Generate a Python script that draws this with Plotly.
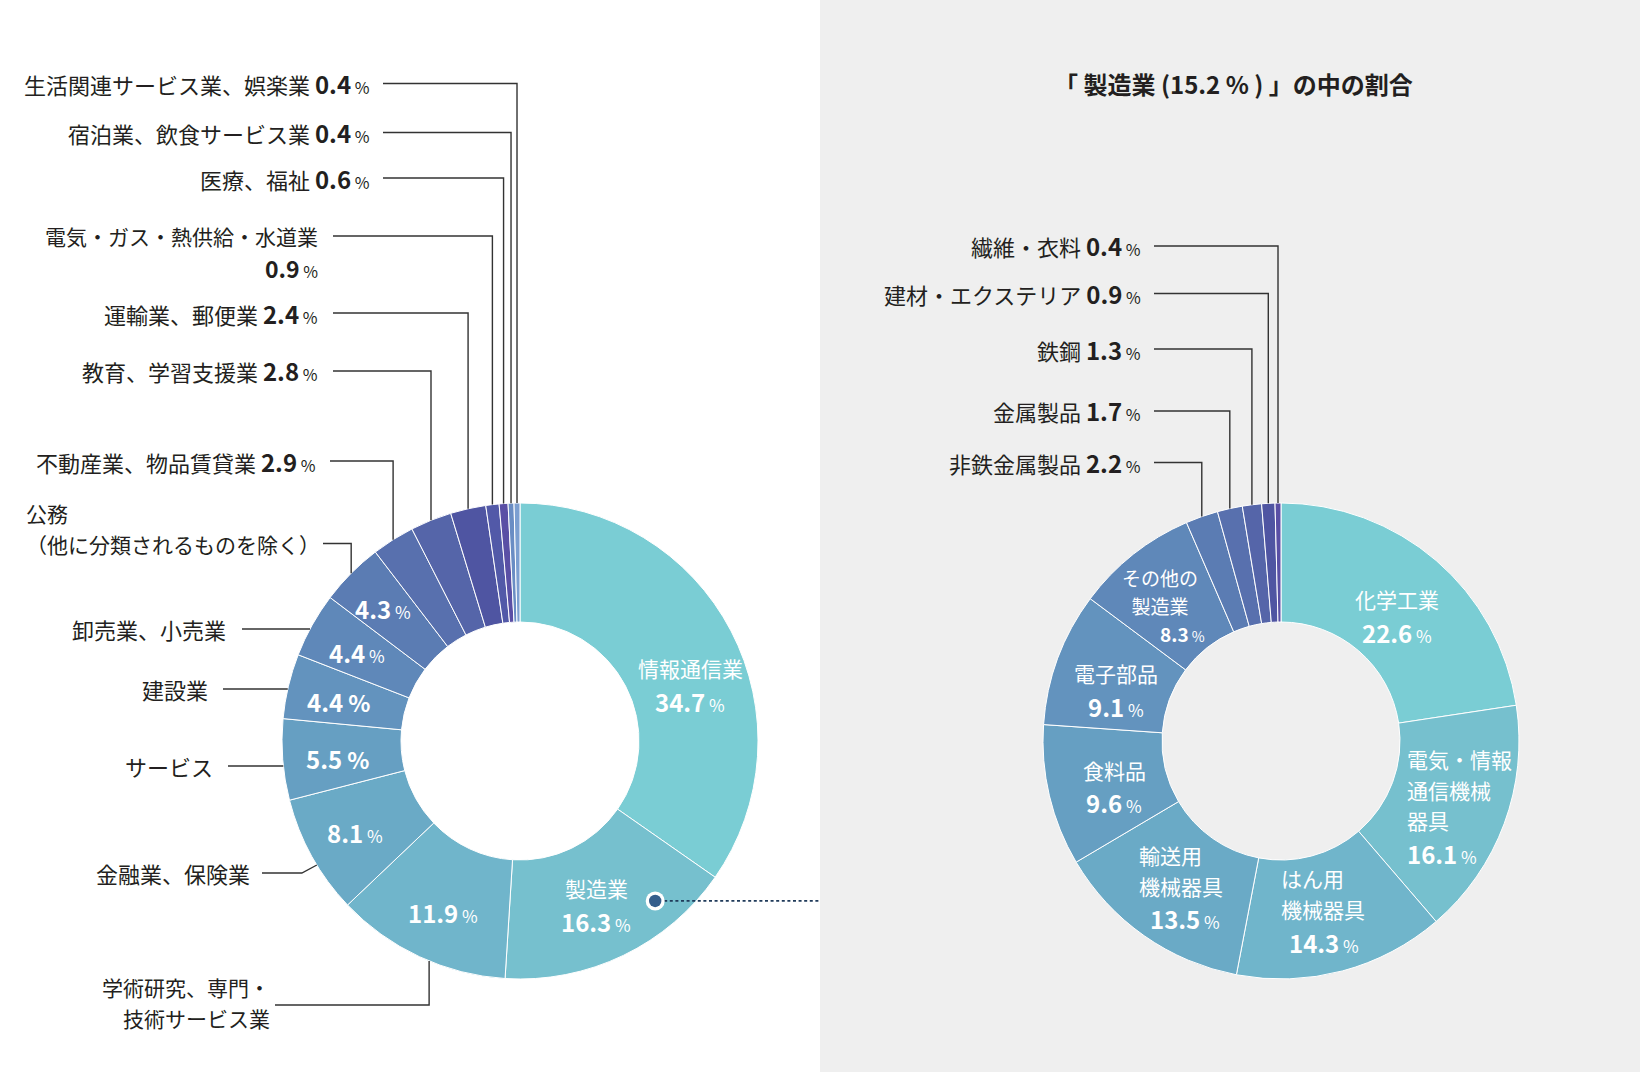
import math
import plotly.graph_objects as go

# ================= data =================
main_labels = ["情報通信業", "製造業", "学術研究、専門・技術サービス業", "金融業、保険業", "サービス",
               "建設業", "卸売業、小売業", "公務（他に分類されるものを除く）", "不動産業、物品賃貸業",
               "教育、学習支援業", "運輸業、郵便業", "電気・ガス・熱供給・水道業", "医療、福祉",
               "宿泊業、飲食サービス業", "生活関連サービス業、娯楽業"]
main_values = [34.7, 16.3, 11.9, 8.1, 5.5, 4.4, 4.4, 4.3, 2.9, 2.8, 2.4, 0.9, 0.6, 0.4, 0.4]
main_display = ["情報通信業", "製造業", "学術研究、専門・<br>技術サービス業", "金融業、保険業", "サービス",
                "建設業", "卸売業、小売業", "公務<br>（他に分類されるものを除く）", "不動産業、物品賃貸業",
                "教育、学習支援業", "運輸業、郵便業", "電気・ガス・熱供給・水道業", "医療、福祉",
                "宿泊業、飲食サービス業", "生活関連サービス業、娯楽業"]

mfg_labels = ["化学工業", "電気・情報通信機械器具", "はん用機械器具", "輸送用機械器具", "食料品",
              "電子部品", "その他の製造業", "非鉄金属製品", "金属製品", "鉄鋼", "建材・エクステリア", "繊維・衣料"]
mfg_values = [22.6, 16.1, 14.3, 13.5, 9.6, 9.1, 8.3, 2.2, 1.7, 1.3, 0.9, 0.4]
mfg_display = ["化学工業", "電気・情報<br>通信機械<br>器具", "はん用<br>機械器具", "輸送用<br>機械器具", "食料品",
               "電子部品", "その他の<br>製造業", "非鉄金属製品", "金属製品", "鉄鋼", "建材・エクステリア", "繊維・衣料"]

title_text = "「 製造業 (15.2 % ) 」の中の割合"

# ================= style / layout =================
W, H = 1640, 1072
FONT = "Noto Sans CJK JP"
TXT = "#231f20"
LINE = "#333333"
PANEL = "#efefef"
PANEL_X = 820

LC = (520, 741)
RC = (1281, 741)
R = 238
HOLE = 0.5
R_MID = R * (1 + HOLE) / 2
LABEL_SIZE = 22

main_colors = ["#7acdd4", "#76c0ce", "#70b5cb", "#6aaac6", "#669fc2", "#6393be", "#5f88b9",
               "#5b7cb3", "#5870ae", "#5565a9", "#4f55a2", "#5259a8", "#5a4fa5", "#6a8dc4", "#7c9fd1"]
mfg_colors = ["#7acdd4", "#76c0ce", "#70b5cb", "#6aaac6", "#669fc2", "#6393be", "#5f88b9",
              "#5b7cb3", "#5870ae", "#5565a9", "#4f55a2", "#5a4fa5"]


def X(px):
    return px / W


def Y(py):
    return 1 - py / H


def slice_angle(values, i, frac=0.5):
    tot = sum(values)
    start = sum(values[:i])
    return (start + values[i] * frac) / tot * 360.0


def polar(c, r, deg):
    a = math.radians(deg)
    return c[0] + r * math.sin(a), c[1] - r * math.cos(a)


def circle_x_at_y(c, r, y, side=-1):
    dy = y - c[1]
    return c[0] + side * math.sqrt(max(r * r - dy * dy, 0))


def domain(c):
    return dict(x=[X(c[0] - R), X(c[0] + R)], y=[Y(c[1] + R), Y(c[1] - R)])


def fmt_val(v, big=24, small=16, pct_bold=False):
    pct = "<b>\u00a0%</b>" if pct_bold else "\u00a0%"
    return (f"<span style='font-size:{big}px'><b>{v:.1f}</b></span>"
            f"<span style='font-size:{small}px'>{pct}</span>")


annotations = []
shapes = []


def add_block(x, y, lines, size, pitch=None, color=TXT, align="center"):
    """One annotation; line pitch controlled via base font size (plotly uses 1.3em)."""
    if pitch is None:
        pitch = size * 1.3
    base = pitch / 1.3
    parts = []
    for l in lines:
        parts.append(l if l.startswith("<span") else f"<span style='font-size:{size}px'>{l}</span>")
    annotations.append(dict(x=X(x), y=Y(y), xref="paper", yref="paper", text="<br>".join(parts),
                            showarrow=False, xanchor=align, yanchor="middle", align=align,
                            font=dict(family=FONT, size=base, color=color)))


def add_path(pts, width=1.4, color=LINE, dash=None):
    d = "M " + " L ".join(f"{X(px):.6f},{Y(py):.6f}" for px, py in pts)
    ln = dict(color=color, width=width)
    if dash:
        ln["dash"] = dash
    shapes.append(dict(type="path", path=d, xref="paper", yref="paper", line=ln, layer="above"))


# background panel
shapes.append(dict(type="rect", xref="paper", yref="paper", x0=X(PANEL_X), x1=1, y0=0, y1=1,
                   fillcolor=PANEL, line=dict(width=0), layer="below"))

fig = go.Figure()
fig.add_trace(go.Pie(values=main_values, labels=main_labels, hole=HOLE, sort=False,
                     direction="clockwise", rotation=0, domain=domain(LC),
                     marker=dict(colors=main_colors, line=dict(color="white", width=1)),
                     textinfo="none", hoverinfo="skip", showlegend=False))
fig.add_trace(go.Pie(values=mfg_values, labels=mfg_labels, hole=HOLE, sort=False,
                     direction="clockwise", rotation=0, domain=domain(RC),
                     marker=dict(colors=mfg_colors, line=dict(color="white", width=1)),
                     textinfo="none", hoverinfo="skip", showlegend=False))


# ---------- inner labels ----------
def inner_labels(center, values, display, specs):
    for i, sp in specs.items():
        ax, ay = polar(center, R_MID, slice_angle(values, i))
        ax += sp.get("dx", 0)
        ay += sp.get("dy", 0)
        small = sp.get("small", False)
        align = sp.get("align", "center")
        ns = 19 if small else 21
        vb, vs = (19, 14) if small else (24, 17)
        if sp.get("pct_big"):
            vs = 23
        names = display[i].split("<br>") if sp.get("name", True) else []
        vtxt = fmt_val(values[i], vb, vs, pct_bold=sp.get("pct_big", False))
        if names:
            pn = sp.get("pn", 31)
            g = sp.get("gap", 33)
            n = len(names)
            y0 = ay - ((n - 1) * pn + g) / 2
            add_block(ax, y0 + (n - 1) * pn / 2, names, ns, pitch=pn, color="white", align=align)
            vy = y0 + (n - 1) * pn + g
        else:
            vy = ay
        add_block(ax + sp.get("vdx", 0), vy, [vtxt], ns, color="white", align=align)


left_inner = {
    0: dict(dx=12, dy=26.5),
    1: dict(dx=-1.5, dy=3, gap=34),
    2: dict(dx=-2, dy=10, name=False),
    3: dict(dx=-9, dy=5, name=False),
    4: dict(dx=-4, dy=3, name=False, pct_big=True),
    5: dict(dx=-7, dy=2, name=False, pct_big=True),
    6: dict(dx=-7, dy=-2, name=False),
    7: dict(dx=-10, dy=-7, name=False),
}
right_inner = {
    0: dict(dx=0, dy=10),
    1: dict(dx=-43, dy=3, pn=30.5, gap=33, align="left"),
    2: dict(dx=-48, dy=-3, pn=30.5, gap=33, align="left", vdx=8),
    3: dict(dx=-41, dy=0, pn=30.5, gap=33, align="left", vdx=11),
    4: dict(dx=7, dy=4),
    5: dict(dx=2, dy=11),
    6: dict(dx=-10, dy=4.5, pn=27.5, gap=28, small=True, vdx=22),
}
inner_labels(LC, main_values, main_display, left_inner)
inner_labels(RC, mfg_values, mfg_display, right_inner)

# ---------- outer labels ----------
left_outer = [
    dict(i=14, y=83.5, tx=372, lx=383, kind="down"),
    dict(i=13, y=132.5, tx=372, lx=383, kind="down"),
    dict(i=12, y=178, tx=372, lx=383, kind="down"),
    dict(i=11, y=236, tx=320, lx=333, kind="down", wrap_y=268),
    dict(i=10, y=313, tx=320, lx=333, kind="down"),
    dict(i=9, y=371, tx=320, lx=333, kind="down"),
    dict(i=8, y=461, tx=318, lx=330, kind="down"),
    dict(i=7, y=543.5, tx=24, lx=323, kind="down", align="left", text_y=513, pitch=31, novalue=True),
    dict(i=6, y=629, tx=228, lx=242, kind="side", novalue=True),
    dict(i=5, y=689, tx=210, lx=223, kind="side", novalue=True),
    dict(i=4, y=766, tx=215, lx=228, kind="side", novalue=True),
    dict(i=3, y=873, tx=252, lx=262, kind="kink", novalue=True),
    dict(i=2, y=1005, tx=272, lx=275, kind="up", text_y=986.5, pitch=31, novalue=True, frac=0.44),
]


def outer_label(center, values, display, sp):
    i = sp["i"]
    name = display[i]
    align = sp.get("align", "right")
    if sp.get("novalue"):
        lines = name.split("<br>")
        ty = sp.get("text_y", sp["y"])
        size = LABEL_SIZE if len(lines) == 1 else 21
        for k, t in enumerate(lines):
            add_block(sp["tx"], ty + k * sp.get("pitch", 31), [t], size, align=align)
    elif "wrap_y" in sp:
        add_block(sp["tx"], sp["y"], [name], 21, align="right")
        add_block(sp["tx"], sp["wrap_y"], [fmt_val(values[i], 23, 16)], 21, align="right")
    else:
        add_block(sp["tx"], sp["y"], [f"<span style='font-size:{LABEL_SIZE}px'>{name}\u00a0</span>"
                                      + fmt_val(values[i])], LABEL_SIZE, align="right")

    y = sp["y"]
    kind = sp["kind"]
    if kind in ("down", "up"):
        px, py = polar(center, R, slice_angle(values, i, sp.get("frac", 0.5)))
        add_path([(sp["lx"], y), (px, y), (px, py)])
    elif kind == "side":
        add_path([(sp["lx"], y), (circle_x_at_y(center, R, y), y)])
    elif kind == "kink":
        ey = y - 8
        ex = circle_x_at_y(center, R, ey)
        add_path([(sp["lx"], y), (ex - 15, y), (ex, ey)])


for sp in left_outer:
    outer_label(LC, main_values, main_display, sp)

right_outer = [
    dict(i=11, y=246, tx=1143, lx=1154, kind="down"),
    dict(i=10, y=293.5, tx=1143, lx=1154, kind="down"),
    dict(i=9, y=349, tx=1143, lx=1154, kind="down"),
    dict(i=8, y=411, tx=1143, lx=1154, kind="down"),
    dict(i=7, y=462.5, tx=1143, lx=1154, kind="down"),
]
for sp in right_outer:
    outer_label(RC, mfg_values, mfg_display, sp)

# title of right panel
add_block(1233, 83.5, [f"<b>{title_text}</b>"], 24)

# pointer dot on 製造業 slice + dotted connector
DOT_ANGLE = 139.8
DOT_R = R * 0.88
dot_x, dot_y = polar(LC, DOT_R, DOT_ANGLE)
add_path([(dot_x + 9, dot_y), (PANEL_X, dot_y)], width=1.8, color="#1f3a5a", dash="3px,2.6px")
for rr, col in ((9.5, "white"), (6.2, "#355e8c")):
    shapes.append(dict(type="circle", xref="paper", yref="paper",
                       x0=X(dot_x - rr), x1=X(dot_x + rr), y0=Y(dot_y + rr), y1=Y(dot_y - rr),
                       fillcolor=col, line=dict(width=0), layer="above"))

fig.update_layout(
    width=W, height=H,
    margin=dict(l=0, r=0, t=0, b=0),
    paper_bgcolor="white", plot_bgcolor="white",
    shapes=shapes, annotations=annotations,
    hovermode=False, showlegend=False,
    font=dict(family=FONT, color=TXT),
)

fig.write_html("out.html", config={"displayModeBar": False, "staticPlot": True},
               post_script="document.body.style.margin='0';document.body.style.padding='0';")
